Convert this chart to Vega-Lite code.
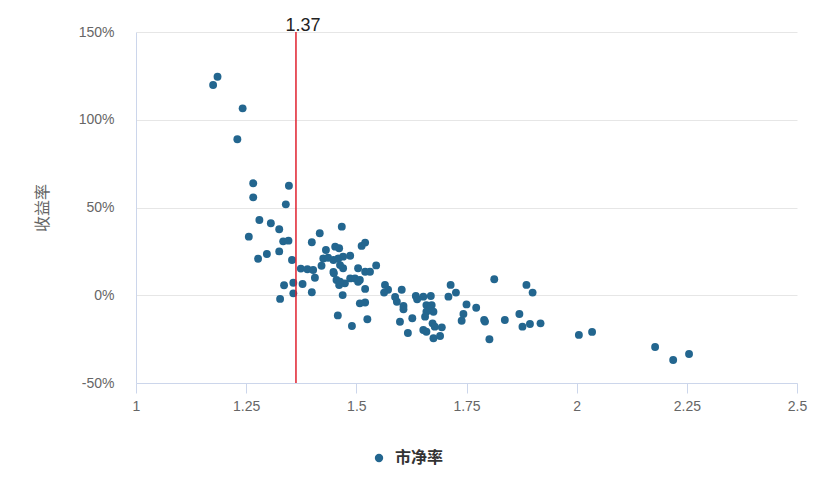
{
  "$schema": "https://vega.github.io/schema/vega-lite/v6.json",
  "description": "Scatter of P/B ratio vs return, with a marker line at 1.37",
  "autosize": {"type": "none"},
  "width": 661,
  "height": 351,
  "padding": {"left": 136, "top": 32, "right": 30, "bottom": 107},
  "datasets": {
    "points": [
      {"pb": 1.185, "ret": 124.5}, {"pb": 1.175, "ret": 119.8}, {"pb": 1.242, "ret": 106.5},
      {"pb": 1.230, "ret": 88.9}, {"pb": 1.266, "ret": 63.8}, {"pb": 1.347, "ret": 62.4},
      {"pb": 1.266, "ret": 55.8}, {"pb": 1.340, "ret": 51.8}, {"pb": 1.280, "ret": 42.9},
      {"pb": 1.306, "ret": 41.0}, {"pb": 1.325, "ret": 37.6}, {"pb": 1.256, "ret": 33.4},
      {"pb": 1.417, "ret": 35.3}, {"pb": 1.467, "ret": 39.1}, {"pb": 1.334, "ret": 30.7},
      {"pb": 1.346, "ret": 31.1}, {"pb": 1.399, "ret": 30.2}, {"pb": 1.297, "ret": 23.5},
      {"pb": 1.325, "ret": 25.0}, {"pb": 1.277, "ret": 20.8}, {"pb": 1.354, "ret": 20.1},
      {"pb": 1.431, "ret": 25.8}, {"pb": 1.452, "ret": 27.7}, {"pb": 1.461, "ret": 26.8},
      {"pb": 1.512, "ret": 28.1}, {"pb": 1.520, "ret": 30.0}, {"pb": 1.374, "ret": 15.2},
      {"pb": 1.389, "ret": 14.8}, {"pb": 1.402, "ret": 14.4}, {"pb": 1.406, "ret": 10.0},
      {"pb": 1.421, "ret": 16.8}, {"pb": 1.425, "ret": 21.0}, {"pb": 1.436, "ret": 21.4},
      {"pb": 1.448, "ret": 20.1}, {"pb": 1.459, "ret": 21.0}, {"pb": 1.470, "ret": 22.0},
      {"pb": 1.486, "ret": 22.5}, {"pb": 1.448, "ret": 13.3}, {"pb": 1.455, "ret": 8.7},
      {"pb": 1.461, "ret": 5.8}, {"pb": 1.474, "ret": 6.8}, {"pb": 1.486, "ret": 9.6},
      {"pb": 1.497, "ret": 9.6}, {"pb": 1.508, "ret": 8.7}, {"pb": 1.470, "ret": 15.4},
      {"pb": 1.504, "ret": 15.4}, {"pb": 1.520, "ret": 13.4}, {"pb": 1.531, "ret": 13.4},
      {"pb": 1.545, "ret": 17.0}, {"pb": 1.520, "ret": 3.6}, {"pb": 1.336, "ret": 5.7},
      {"pb": 1.357, "ret": 7.1}, {"pb": 1.378, "ret": 6.4}, {"pb": 1.357, "ret": 1.1},
      {"pb": 1.327, "ret": -2.1}, {"pb": 1.399, "ret": 1.7}, {"pb": 1.469, "ret": 0.1},
      {"pb": 1.508, "ret": -4.6}, {"pb": 1.520, "ret": -4.1}, {"pb": 1.458, "ret": -11.5},
      {"pb": 1.525, "ret": -13.7}, {"pb": 1.490, "ret": -17.5}, {"pb": 1.565, "ret": 5.9},
      {"pb": 1.572, "ret": 3.1}, {"pb": 1.563, "ret": 1.5}, {"pb": 1.588, "ret": -1.0},
      {"pb": 1.592, "ret": -3.7}, {"pb": 1.607, "ret": -6.1}, {"pb": 1.603, "ret": 3.1},
      {"pb": 1.607, "ret": -8.0}, {"pb": 1.599, "ret": -15.1}, {"pb": 1.617, "ret": -21.5},
      {"pb": 1.627, "ret": -13.1}, {"pb": 1.635, "ret": -0.4}, {"pb": 1.638, "ret": -2.3},
      {"pb": 1.652, "ret": -0.8}, {"pb": 1.669, "ret": -0.4}, {"pb": 1.659, "ret": -5.6},
      {"pb": 1.671, "ret": -5.6}, {"pb": 1.667, "ret": -7.5}, {"pb": 1.675, "ret": -9.4},
      {"pb": 1.659, "ret": -9.4}, {"pb": 1.656, "ret": -12.2}, {"pb": 1.673, "ret": -16.0},
      {"pb": 1.678, "ret": -17.9}, {"pb": 1.652, "ret": -19.8}, {"pb": 1.659, "ret": -20.8},
      {"pb": 1.675, "ret": -24.5}, {"pb": 1.690, "ret": -23.2}, {"pb": 1.694, "ret": -18.3},
      {"pb": 1.714, "ret": 5.9}, {"pb": 1.726, "ret": 1.5}, {"pb": 1.709, "ret": -0.8},
      {"pb": 1.750, "ret": -5.2}, {"pb": 1.772, "ret": -7.1}, {"pb": 1.743, "ret": -10.7},
      {"pb": 1.739, "ret": -14.5}, {"pb": 1.790, "ret": -14.1}, {"pb": 1.792, "ret": -15.0},
      {"pb": 1.802, "ret": -25.1}, {"pb": 1.813, "ret": 9.1}, {"pb": 1.837, "ret": -14.1},
      {"pb": 1.870, "ret": -10.7}, {"pb": 1.886, "ret": 5.9}, {"pb": 1.900, "ret": 1.5},
      {"pb": 1.877, "ret": -17.9}, {"pb": 1.894, "ret": -16.4}, {"pb": 1.918, "ret": -16.0},
      {"pb": 2.005, "ret": -22.6}, {"pb": 2.035, "ret": -20.9}, {"pb": 2.178, "ret": -29.5},
      {"pb": 2.219, "ret": -36.9}, {"pb": 2.255, "ret": -33.5}, {"pb": 1.463, "ret": 17.2},
      {"pb": 1.449, "ret": 12.5}, {"pb": 1.463, "ret": 7.7}, {"pb": 1.504, "ret": 7.7}
    ],
    "marker": [
      {"pb": 1.363, "ret": 150, "label": "1.37"}
    ]
  },
  "layer": [
    {
      "data": {"name": "points"},
      "mark": {"type": "circle", "size": 62, "opacity": 1},
      "encoding": {
        "x": {
          "field": "pb",
          "type": "quantitative",
          "scale": {"domain": [1, 2.5], "nice": false, "zero": false},
          "axis": {
            "title": null,
            "values": [1, 1.25, 1.5, 1.75, 2, 2.25, 2.5],
            "labelExpr": "'' + datum.value",
            "grid": false,
            "domainColor": "#ccd6eb",
            "tickColor": "#ccd6eb",
            "tickSize": 10,
            "labelPadding": 6,
            "labelColor": "#666666",
            "labelFontSize": 14,
            "labelFont": "Liberation Sans",
            "labelFlush": false
          }
        },
        "y": {
          "field": "ret",
          "type": "quantitative",
          "scale": {"domain": [-50, 150], "nice": false, "zero": false},
          "axis": {
            "title": "收益率",
            "titleColor": "#666666",
            "titleFontSize": 16,
            "titleFontWeight": "normal",
            "titleFont": "Noto Sans CJK SC",
            "titlePadding": 28,
            "values": [-50, 0, 50, 100, 150],
            "labelExpr": "datum.value + '%'",
            "grid": true,
            "gridColor": "#e6e6e6",
            "domainColor": "#ccd6eb",
            "ticks": false,
            "labelPadding": 22,
            "labelColor": "#666666",
            "labelFontSize": 14,
            "labelFont": "Liberation Sans"
          }
        },
        "color": {
          "datum": "市净率",
          "type": "nominal",
          "scale": {"range": ["#23668f"]},
          "legend": {
            "title": null,
            "orient": "none",
            "legendX": 235,
            "legendY": 418,
            "padding": 0,
            "symbolType": "circle",
            "symbolSize": 70,
            "labelFontSize": 16,
            "labelFontWeight": "bold",
            "labelColor": "#333333",
            "labelFont": "Noto Sans CJK SC",
            "labelOffset": 8
          }
        }
      }
    },
    {
      "data": {"name": "marker"},
      "mark": {"type": "rule", "color": "#e0202e", "strokeWidth": 1.5},
      "encoding": {
        "x": {"field": "pb", "type": "quantitative"}
      }
    },
    {
      "data": {"name": "marker"},
      "mark": {"type": "text", "align": "center", "baseline": "alphabetic", "dx": 7, "dy": -1, "fontSize": 18, "font": "Liberation Sans", "color": "#222222"},
      "encoding": {
        "x": {"field": "pb", "type": "quantitative"},
        "y": {"field": "ret", "type": "quantitative"},
        "text": {"field": "label"}
      }
    }
  ],
  "config": {
    "view": {"stroke": null},
    "background": "#ffffff"
  }
}
